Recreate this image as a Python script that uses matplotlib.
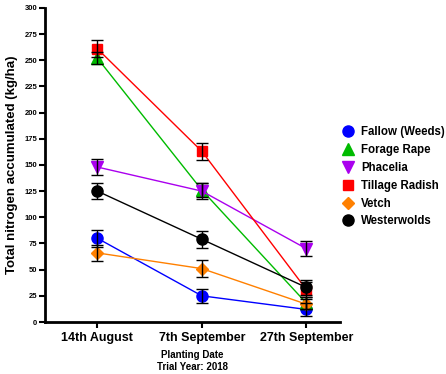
import matplotlib.pyplot as plt
from matplotlib.lines import Line2D

plt.rcParams['font.family'] = ['Liberation Sans', 'DejaVu Sans']
plt.rcParams['font.weight'] = 'bold'

dates = ['14th August', '7th September', '27th September']

fallow = [80, 25, 12]
fallow_err = [8, 7, 6]
forage_rape = [252, 126, 18]
forage_rape_err = [6, 7, 6]
phacelia = [148, 125, 70]
phacelia_err = [8, 8, 7]
tillage_radish = [261, 163, 31]
tillage_radish_err = [8, 8, 7]
vetch = [66, 51, 17]
vetch_err = [8, 8, 5]
westerwolds = [125, 79, 33]
westerwolds_err = [8, 8, 7]

series = [
    ('Fallow (Weeds)', fallow, fallow_err, '#0000ff', 'o', 8),
    ('Forage Rape', forage_rape, forage_rape_err, '#00bb00', '^', 8),
    ('Phacelia', phacelia, phacelia_err, '#aa00ee', 'v', 8),
    ('Tillage Radish', tillage_radish, tillage_radish_err, '#ff0000', 's', 7.5),
    ('Vetch', vetch, vetch_err, '#ff8000', 'D', 6),
    ('Westerwolds', westerwolds, westerwolds_err, '#000000', 'o', 8),
]

fig = plt.figure(figsize=(4.46, 3.74), dpi=100)
ax = fig.add_axes([0.101, 0.139, 0.661, 0.840])

x = range(len(dates))
handles = []
for name, vals, err, col, mk, ms in series:
    ax.plot(x, vals, color=col, marker=mk, markersize=ms, linewidth=1, zorder=2)
    ax.errorbar(x, vals, yerr=err, fmt='none', ecolor='black', elinewidth=1,
                capsize=4, capthick=1, zorder=3)
    handles.append(Line2D([], [], color=col, marker=mk, markersize=ms,
                          linestyle='none', label=name))

ax.set_xlim(-0.5, 2.32)
ax.set_ylim(0, 300)
ax.set_yticks(range(0, 301, 25))
ax.set_xticks(list(x))
ax.set_xticklabels(dates, fontsize=9, fontweight='bold')
ax.tick_params(axis='y', labelsize=5.5, width=1.5, length=4, pad=1.5)
ax.tick_params(axis='x', width=1.5, length=4)
for s in ['top', 'right']:
    ax.spines[s].set_visible(False)
for s in ['left', 'bottom']:
    ax.spines[s].set_linewidth(2)

ax.set_ylabel('Total nitrogen accumulated (kg/ha)', fontsize=9.5,
              fontweight='bold', labelpad=5)
ax.set_xlabel('Planting Date\nTrial Year: 2018', fontsize=7, fontweight='bold',
              linespacing=1.2)

fig.legend(handles=handles, loc='center left', bbox_to_anchor=(0.745, 0.527),
           frameon=False, fontsize=8.3, handlelength=1.0, handletextpad=0.6,
           labelspacing=0.5)

fig.savefig('out.png', dpi=100)
